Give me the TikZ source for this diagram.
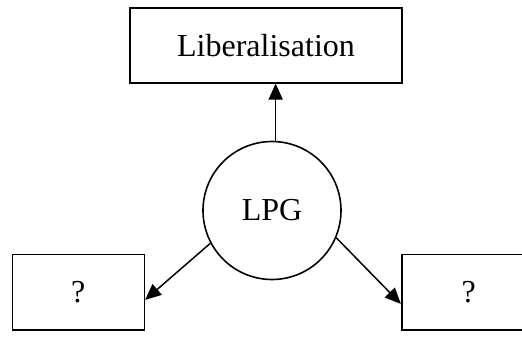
\documentclass[tikz,border=0pt]{standalone}
\usepackage{fontspec}
\setmainfont{Liberation Serif}
\usetikzlibrary{arrows.meta}
\begin{document}
\begin{tikzpicture}[x=1pt,y=1pt,
  every node/.style={font=\fontsize{32}{38}\selectfont, inner sep=0pt},
  boxnode/.style={draw, line width=1.6pt, rectangle},
  circnode/.style={draw, line width=1.6pt, circle, minimum size=138pt},
  arr/.style={line width=1.5pt, -{Triangle[length=16pt,width=14pt]}}]
\useasboundingbox (0,0) rectangle (522,360);
\node[boxnode, minimum width=272pt, minimum height=74.5pt] (top) at (266,314.5) {Liberalisation};
\node[circnode] (circ) at (272,149.5) {LPG};
\node[boxnode, minimum width=132pt, minimum height=75.7pt] (left) at (78.3,67.8) {?};
\node[boxnode, minimum width=134pt, minimum height=75.7pt] (right) at (468.7,67.8) {?};
\draw[arr] (circ.87.8) -- (circ.87.8 |- top.south);
\draw[arr] (circ.208.6) -- ([yshift=-7.7pt]left.east);
\draw[arr] (circ.-23.8) -- ([yshift=-11.7pt]right.west);
\end{tikzpicture}
\end{document}
